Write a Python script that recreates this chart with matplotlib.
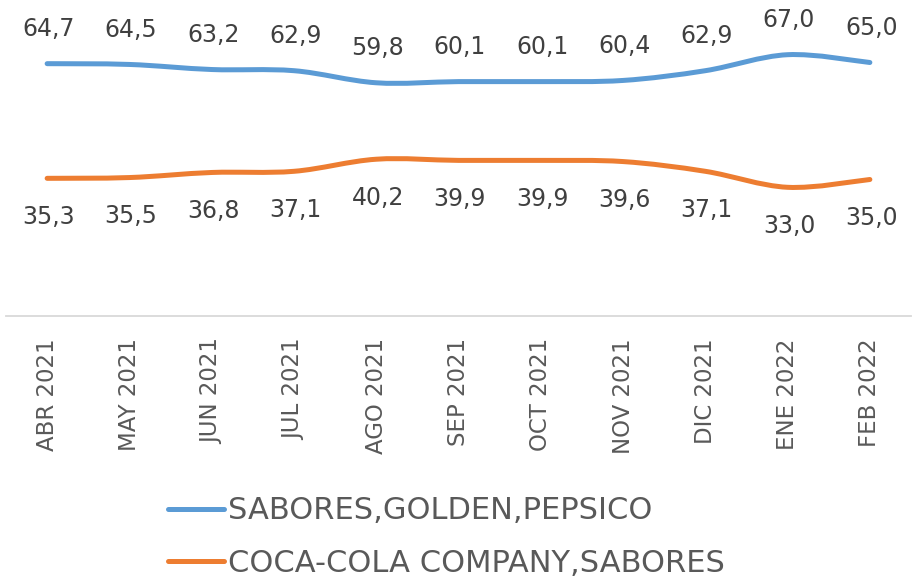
import matplotlib.pyplot as plt
from matplotlib.path import Path
from matplotlib.patches import PathPatch
from matplotlib.lines import Line2D

meses = ["ABR 2021", "MAY 2021", "JUN 2021", "JUL 2021", "AGO 2021", "SEP 2021",
         "OCT 2021", "NOV 2021", "DIC 2021", "ENE 2022", "FEB 2022"]
pepsico = [64.7, 64.5, 63.2, 62.9, 59.8, 60.1, 60.1, 60.4, 62.9, 67.0, 65.0]
cocacola = [35.3, 35.5, 36.8, 37.1, 40.2, 39.9, 39.9, 39.6, 37.1, 33.0, 35.0]
nombres = ["SABORES,GOLDEN,PEPSICO", "COCA-COLA COMPANY,SABORES"]
colores = ["#5B9BD5", "#ED7D31"]

plt.rcParams['font.family'] = ['DejaVu Sans']


def smooth_path(ys):
    # bezier smoothing like excel's "smoothed line"
    xs = list(range(len(ys)))
    verts = [(xs[0], ys[0])]
    codes = [Path.MOVETO]
    n = len(ys)
    for i in range(n - 1):
        y0 = ys[i - 1] if i > 0 else ys[i]
        x0 = xs[i - 1] if i > 0 else xs[i]
        y3 = ys[i + 2] if i + 2 < n else ys[i + 1]
        x3 = xs[i + 2] if i + 2 < n else xs[i + 1]
        c1 = (xs[i] + (xs[i + 1] - x0) / 6, ys[i] + (ys[i + 1] - y0) / 6)
        c2 = (xs[i + 1] - (x3 - xs[i]) / 6, ys[i + 1] - (y3 - ys[i]) / 6)
        verts += [c1, c2, (xs[i + 1], ys[i + 1])]
        codes += [Path.CURVE4] * 3
    return Path(verts, codes)


fig = plt.figure(figsize=(9.13, 5.81), dpi=100)
ax = fig.add_axes([6 / 913, 1 - 316 / 581, 905 / 913, 312 / 581])

for serie, color, off in [(pepsico, colores[0], 25), (cocacola, colores[1], -28)]:
    ax.add_patch(PathPatch(smooth_path(serie), facecolor='none', edgecolor=color,
                           lw=3.6, capstyle='round', joinstyle='round'))
    for i, v in enumerate(serie):
        ax.annotate(f"{v:.1f}".replace(".", ","), (i, v), xytext=(1, off),
                    textcoords='offset points', ha='center', va='center',
                    fontsize=17, color='#404040')

ax.set_xlim(-0.5, len(meses) - 0.5)
ax.set_ylim(0, 80)
ax.set_xticks(range(len(meses)))
ax.set_xticklabels(meses, rotation=90, fontsize=16.5, color='#595959')
ax.tick_params(axis='x', length=0, pad=16)
ax.set_yticks([])
for s in ['top', 'right', 'left']:
    ax.spines[s].set_visible(False)
ax.spines['bottom'].set_color('#D9D9D9')
ax.spines['bottom'].set_linewidth(1.3)

handles = [Line2D([], [], color=c, lw=3.6, solid_capstyle='round') for c in colores]
fig.legend(handles, nombres, loc='center left', bbox_to_anchor=(156 / 913, 1 - 537 / 581),
           frameon=False, fontsize=22, labelcolor='#595959', handlelength=1.83,
           handletextpad=0.12, labelspacing=0.76, borderaxespad=0)

fig.savefig("out.png", dpi=100)
